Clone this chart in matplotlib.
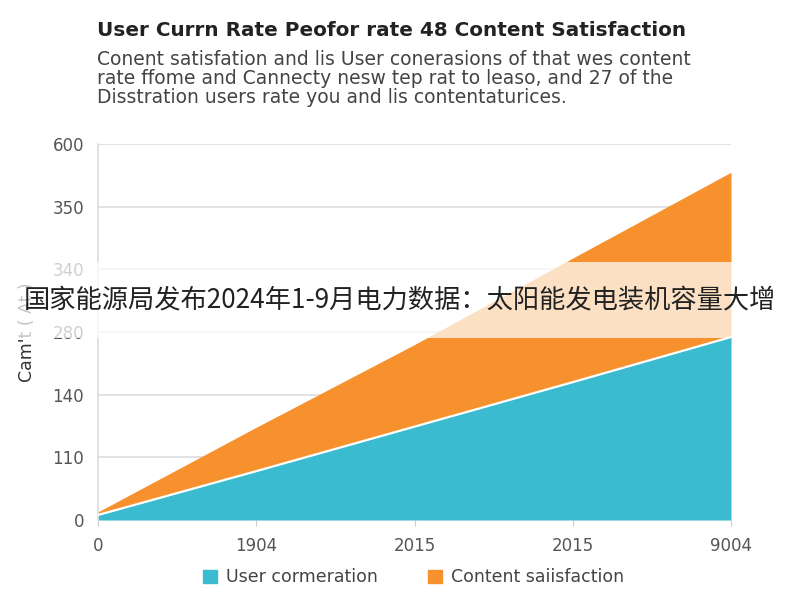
import matplotlib
matplotlib.use("Agg")
import matplotlib.pyplot as plt
from matplotlib.patches import Rectangle, Patch

# data
x_pos = [0, 1, 2, 3, 4]
x_labels = ["0", "1904", "2015", "2015", "9004"]
user_vals = [8, 78, 149, 220, 292]
total_vals = [13, 148, 280, 418, 555]
y_ticks = [0, 100, 200, 300, 400, 500, 600]
y_labels = ["0", "110", "140", "280", "340", "350", "600"]

teal = "#3abbd0"
orange = "#f7912d"

fig = plt.figure(figsize=(8, 6), dpi=100)
ax = fig.add_axes([0.1225, 0.1333, 0.79125, 0.6267])

ax.fill_between(x_pos, 0, user_vals, color=teal, lw=0, zorder=2)
ax.fill_between(x_pos, user_vals, total_vals, color=orange, lw=0, zorder=2)
ax.plot(x_pos, user_vals, color="white", lw=1.6, zorder=3)

ax.set_xlim(0, 4)
ax.set_ylim(0, 600)
ax.set_xticks(x_pos)
ax.set_xticklabels(x_labels)
ax.set_yticks(y_ticks)
ax.set_yticklabels(y_labels)
ax.tick_params(axis="y", length=0, pad=10, labelsize=12, labelcolor="#555555")
ax.tick_params(axis="x", length=4, color="#cccccc", pad=8, labelsize=12, labelcolor="#555555")
ax.grid(axis="y", color="#dddddd", lw=1.2, zorder=1)
for s in ["top", "right", "bottom"]:
    ax.spines[s].set_visible(False)
ax.spines["left"].set_color("#dddddd")
ax.spines["left"].set_linewidth(1.2)
ax.set_ylabel("Cam't ( At )", fontsize=12.5, color="#333333", labelpad=12)

fig.text(0.121, 0.95, "User Currn Rate Peofor rate 48 Content Satisfaction",
         fontsize=14.4, fontweight="bold", color="#222222", va="center", ha="left")
sub = ("Conent satisfation and lis User conerasions of that wes content\n"
       "rate ffome and Cannecty nesw tep rat to leaso, and 27 of the\n"
       "Disstration users rate you and lis contentaturices.")
fig.text(0.121, 0.917, sub, fontsize=13.5, color="#444444", va="top", ha="left",
         linespacing=1.0)

handles = [Patch(color=teal, label="User cormeration"),
           Patch(color=orange, label="Content saiisfaction")]
fig.legend(handles=handles, loc="center", bbox_to_anchor=(0.517, 0.038), ncol=2,
           frameon=False, fontsize=12.5, handlelength=0.8, handleheight=0.8,
           columnspacing=2.9, handletextpad=0.5, labelcolor="#444444")

# overlay banner
fig.add_artist(Rectangle((0, 0.437), 1, 0.126, transform=fig.transFigure,
                         facecolor="white", alpha=0.72, lw=0, zorder=5))
fig.text(0.5, 0.5, "国家能源局发布2024年1-9月电力数据：太阳能发电装机容量大增",
         fontsize=18.9, color="#222222", ha="center", va="center", zorder=6,
         family=["Noto Sans CJK SC", "DejaVu Sans"])

fig.savefig("out.png", dpi=100)
